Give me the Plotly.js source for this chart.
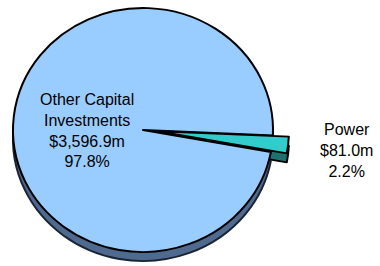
<!DOCTYPE html>
<html>
<head>
<meta charset="utf-8">
<script src="https://cdn.plot.ly/plotly-3.0.1.min.js"></script>
<style>
html,body{margin:0;padding:0;overflow:hidden;background:#fff;}
#chart{width:380px;height:300px;}
</style>
</head>
<body>
<div id="chart"></div>
<script>
// ---- data ----
const categories = ['Power', 'Other Capital Investments'];
const labelLines = ['Power', 'Other Capital<br>Investments'];
const values = [81.0, 3596.9];
const faceColors = ['#33CCCC', '#99CCFF'];
const sideColors = ['#1F7070', '#4F6A8F'];
const gapColor = '#000000';

const total = values.reduce((a, b) => a + b, 0);
const fmtMoney = v => '$' + v.toLocaleString('en-US', {minimumFractionDigits: 1, maximumFractionDigits: 1}) + 'm';
const fmtPct = v => (v / total * 100).toFixed(1) + '%';

// ---- geometry (pixels in a 380x300 layout, later squashed vertically) ----
const W = 380, H = 300;
const cx = 143, cy = 140, R = 130;
const rot = 92.5;
const pullPx = 16;
const depthPx = 9.6;
const pullAng = (rot + 2.5) * Math.PI / 180;
const pdx = pullPx * Math.sin(pullAng), pdy = -pullPx * Math.cos(pullAng);

function domainAt(x, y) {
  return {x: [(x - R) / W, (x + R) / W], y: [1 - (y + R) / H, 1 - (y - R) / H]};
}
const T = 'rgba(0,0,0,0)';
function pieTrace(dom, colors, lineColors, lineWidths) {
  return {
    type: 'pie', labels: categories, values: values, sort: false,
    direction: 'clockwise', rotation: rot, textinfo: 'none', hoverinfo: 'skip',
    showlegend: false, domain: dom,
    marker: {colors: colors, line: {color: lineColors, width: lineWidths}}
  };
}
const traces = [
  // side of main slice
  pieTrace(domainAt(cx, cy + depthPx), [sideColors[1], sideColors[1]], ['#1a2433', '#1a2433'], [0, 2]),
  // side of pulled slice
  pieTrace(domainAt(cx + pdx, cy + pdy + depthPx), [sideColors[0], T], ['#000', T], [2, 0]),
  // top of main slice (gap where the pulled slice was)
  pieTrace(domainAt(cx, cy), [gapColor, faceColors[1]], ['#000', '#000'], [2, 2]),
  // top of pulled slice
  pieTrace(domainAt(cx + pdx, cy + pdy), [faceColors[0], T], ['#000', T], [2, 0])
];

const labelPos = [[346, 150], [87, 130]];
const annotations = categories.map((c, i) => ({
  xref: 'paper', yref: 'paper', x: labelPos[i][0] / W, y: 1 - labelPos[i][1] / H,
  xanchor: 'center', yanchor: 'middle', align: 'center', showarrow: false,
  text: labelLines[i] + '<br>' + fmtMoney(values[i]) + '<br>' + fmtPct(values[i]),
  font: {family: 'Liberation Sans, Arial, sans-serif', size: 16, color: '#000'}
}));

const layout = {
  width: W, height: H, margin: {l: 0, r: 0, t: 0, b: 0},
  paper_bgcolor: '#fff', plot_bgcolor: '#fff',
  annotations: annotations, showlegend: false
};

Plotly.newPlot('chart', traces, layout, {displayModeBar: false, staticPlot: true}).then(() => {
  const s = 122 / 130, targetCy = 130;
  const pl = document.querySelector('.pielayer');
  if (pl) pl.setAttribute('transform', 'translate(0,' + (targetCy - cy * s) + ') scale(1,' + s + ')');
});
</script>
</body>
</html>
